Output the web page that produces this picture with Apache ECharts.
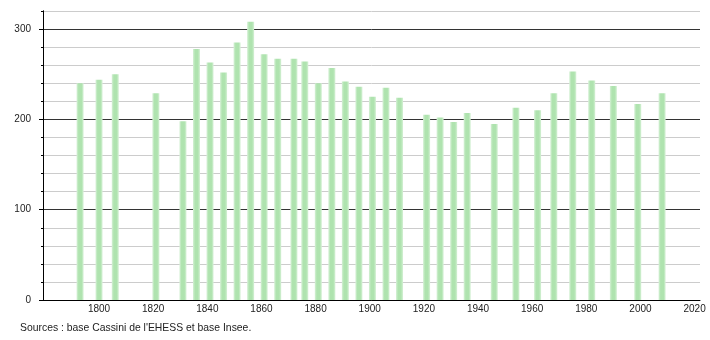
<!DOCTYPE html>
<html>
<head>
<meta charset="utf-8">
<script src="https://cdn.jsdelivr.net/npm/echarts@6/dist/echarts.min.js"></script>
<style>
html,body{margin:0;padding:0;background:#fff;}
#chart{width:710px;height:340px;}
</style>
</head>
<body>
<div id="chart"></div>
<script>
const years = [1793,1800,1806,1821,1831,1836,1841,1846,1851,1856,1861,1866,1872,1876,1881,1886,1891,1896,1901,1906,1911,1921,1926,1931,1936,1946,1954,1962,1968,1975,1982,1990,1999,2008];
const population = [240,244,250,229,198,278,263,252,285,308,272,267,267,264,240,257,242,236,225,235,224,205,202,197,207,195,213,210,229,253,243,237,217,229];
const xTickLabels = [1800,1820,1840,1860,1880,1900,1920,1940,1960,1980,2000,2020];
const yMajorTicks = [0,100,200,300];
const sourceText = "Sources : base Cassini de l'EHESS et base Insee.";

const data = years.map((y, i) => [y, population[i]]);
const chart = echarts.init(document.getElementById('chart'), null, {renderer: 'canvas'});
const font = 'Liberation Sans, Arial, sans-serif';
chart.setOption({
  animation: false,
  backgroundColor: '#fff',
  grid: {left: 43, right: 10, top: 11, bottom: 40},
  xAxis: {
    type: 'value',
    min: 1779.3,
    max: 2022,
    splitLine: {show: false},
    axisLine: {show: true, lineStyle: {color: '#000', width: 1}},
    axisTick: {show: false},
    axisLabel: {
      customValues: xTickLabels,
      color: '#222', fontSize: 10, fontFamily: font, margin: 4,
      formatter: v => String(v)
    }
  },
  yAxis: [{
    type: 'value',
    min: 0, max: 320, interval: 20,
    axisLine: {show: true, lineStyle: {color: '#000'}},
    axisTick: {show: true, length: 2, lineStyle: {color: '#000'}},
    axisLabel: {
      color: '#222', fontSize: 10, fontFamily: font, margin: 12,
      formatter: v => (v % 100 === 0 && v <= 300) ? String(v) : ''
    },
    splitLine: {show: true, lineStyle: {color: ['#333','#cccccc','#cccccc','#cccccc','#cccccc'], width: 1}}
  }, {
    type: 'value',
    min: 0, max: 320, interval: 20,
    position: 'left',
    axisLine: {show: true, lineStyle: {color: '#000'}},
    axisTick: {show: true, length: 4, customValues: yMajorTicks, lineStyle: {color: '#000'}},
    axisLabel: {show: false},
    splitLine: {show: false}
  }],
  series: [{
    type: 'bar',
    data: data,
    barWidth: 7,
    itemStyle: {
      color: new echarts.graphic.LinearGradient(0, 0, 1, 0, [
        {offset: 0, color: '#d6f1d6'},
        {offset: 0.3, color: '#afe3af'},
        {offset: 0.7, color: '#afe3af'},
        {offset: 1, color: '#d6f1d6'}
      ])
    }
  }],
  graphic: [{
    type: 'text',
    left: 20, top: 323,
    style: {text: sourceText, fill: '#222', font: '10.4px ' + font}
  }]
});
</script>
</body>
</html>
